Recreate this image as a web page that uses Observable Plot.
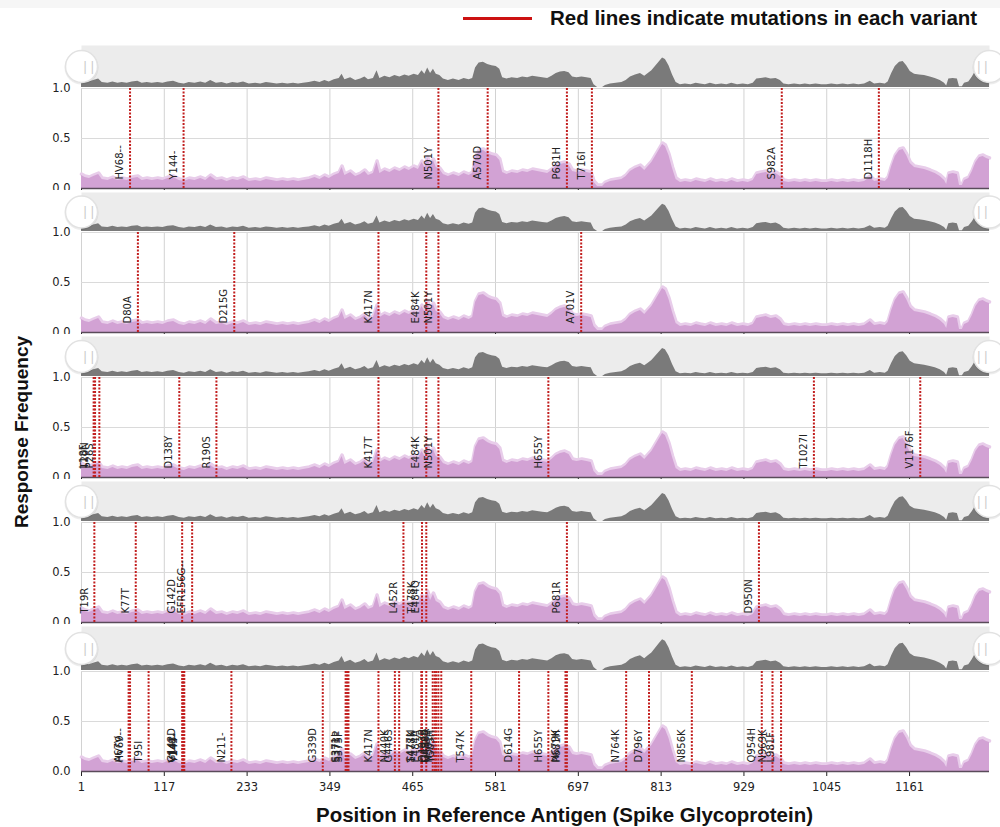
<!DOCTYPE html>
<html><head><meta charset="utf-8">
<script src="https://cdn.jsdelivr.net/npm/d3@7"></script>
<script src="https://cdn.jsdelivr.net/npm/@observablehq/plot@0.6"></script>
<style>
body{margin:0;background:#fff;}
#root{position:relative;width:1000px;height:827px;overflow:hidden;font-family:"Liberation Sans",Arial,sans-serif;}
</style></head><body><div id="root"></div>
<script>
// Response-frequency profile along the spike glycoprotein (position, value)
const profilePos = [1,6,12,18,25,30,38,45,52,58,65,72,80,86,93,100,108,115,122,130,138,145,152,160,168,175,182,190,198,205,213,220,228,236,245,252,260,268,275,283,290,298,305,312,320,328,335,342,348,355,362,366,370,378,385,392,398,403,410,415,419,426,433,440,447,454,460,467,473,478,482,486,490,494,498,503,508,515,522,530,537,544,549,553,558,564,570,576,582,587,591,597,604,612,619,626,633,640,647,654,660,666,672,678,684,689,695,702,709,715,719,724,731,735,742,750,758,764,770,777,784,790,795,800,805,810,815,819,824,829,834,840,847,855,862,868,875,882,890,898,905,912,920,928,935,942,947,953,960,967,974,980,985,992,1000,1008,1015,1022,1030,1038,1045,1052,1060,1068,1075,1083,1090,1098,1106,1112,1120,1127,1131,1136,1141,1147,1152,1157,1162,1168,1175,1182,1190,1197,1204,1210,1213,1216,1222,1228,1231,1235,1238,1244,1249,1254,1259,1264,1269,1273];
const profileVal = [0.13,0.11,0.10,0.12,0.14,0.09,0.08,0.10,0.08,0.09,0.08,0.10,0.11,0.08,0.09,0.08,0.09,0.08,0.10,0.11,0.08,0.07,0.09,0.08,0.10,0.08,0.12,0.08,0.09,0.07,0.09,0.08,0.10,0.07,0.08,0.07,0.09,0.08,0.07,0.08,0.07,0.08,0.07,0.08,0.09,0.11,0.09,0.12,0.10,0.13,0.15,0.21,0.13,0.16,0.12,0.14,0.17,0.13,0.15,0.26,0.15,0.18,0.16,0.19,0.17,0.20,0.18,0.21,0.19,0.26,0.21,0.30,0.22,0.28,0.21,0.19,0.14,0.12,0.14,0.12,0.15,0.13,0.15,0.30,0.37,0.38,0.35,0.33,0.32,0.28,0.16,0.14,0.16,0.15,0.17,0.16,0.18,0.17,0.16,0.15,0.18,0.22,0.24,0.25,0.23,0.17,0.16,0.17,0.16,0.15,0.06,0.02,0.02,0.05,0.07,0.08,0.09,0.12,0.17,0.20,0.22,0.18,0.22,0.26,0.32,0.38,0.44,0.42,0.33,0.20,0.09,0.06,0.07,0.06,0.08,0.07,0.06,0.08,0.06,0.07,0.06,0.08,0.06,0.07,0.06,0.08,0.14,0.15,0.16,0.14,0.15,0.12,0.07,0.06,0.07,0.06,0.07,0.06,0.07,0.06,0.06,0.07,0.06,0.07,0.06,0.07,0.06,0.07,0.11,0.07,0.08,0.07,0.10,0.22,0.32,0.38,0.39,0.33,0.25,0.21,0.20,0.19,0.17,0.15,0.12,0.08,0.04,0.14,0.15,0.14,0.03,0.03,0.08,0.10,0.17,0.26,0.31,0.32,0.30,0.29];

const xTicks = [1,117,233,349,465,581,697,813,929,1045,1161];
const yTicks = [0,0.5,1];

// Mutations per variant (label, residue position)
const alphaLabels = ["HV68--","Y144-","N501Y","A570D","P681H","T716I","S982A","D1118H"];
const alphaPos    = [69,144,501,570,681,716,982,1118];
const betaLabels  = ["D80A","D215G","K417N","E484K","N501Y","A701V"];
const betaPos     = [80,215,417,484,501,701];
const gammaLabels = ["L18F","T20N","P26S","D138Y","R190S","K417T","E484K","N501Y","H655Y","T1027I","V1176F"];
const gammaPos    = [18,20,26,138,190,417,484,501,655,1027,1176];
const deltaLabels = ["T19R","K77T","G142D","EFR156G--","L452R","T478K","E484Q","P681R","D950N"];
const deltaPos    = [19,77,142,156,452,478,484,681,950];
const omicronLabels = ["A67V","HV69--","T95I","G142D","V143-","Y144-","Y145-","N211-","G339D","S371L","S373P","S375F","K417N","N440K","G446S","S477N","T478K","E484A","Q493R","G496S","Q498R","N501Y","Y505H","T547K","D614G","H655Y","N679K","P681H","N764K","D796Y","N856K","Q954H","N969K","L981F"];
const omicronPos    = [67,69,95,142,143,144,145,211,339,371,373,375,417,440,446,477,478,484,493,496,498,501,505,547,614,655,679,681,764,796,856,954,969,981];

const variants = [
  [alphaLabels, alphaPos],
  [betaLabels, betaPos],
  [gammaLabels, gammaPos],
  [deltaLabels, deltaPos],
  [omicronLabels, omicronPos]
];

const root = document.getElementById("root");
const profile = profilePos.map((p, i) => ({pos: p, val: profileVal[i]}));
const xDomain = [1, 1273];
const W = 1000, ML = 81, MR = 11;
const mainTops = [88, 232, 377, 522, 671];

function place(el, top, left) {
  el.style.position = "absolute";
  el.style.left = (left || 0) + "px";
  el.style.top = top + "px";
  root.appendChild(el);
  return el;
}

// top faint band
const band = document.createElement("div");
band.style.cssText = "width:1000px;height:8px;background:#f6f6f6;";
place(band, 0);

// legend
const legLine = document.createElement("div");
legLine.style.cssText = "width:69px;height:3px;background:#cc1111;";
place(legLine, 17, 463);
const legText = document.createElement("div");
legText.textContent = "Red lines indicate mutations in each variant";
legText.style.cssText = "font:bold 20.5px 'Liberation Sans',Arial,sans-serif;color:#111;white-space:nowrap;line-height:24px;";
place(legText, 6, 550);

variants.forEach(([labels, positions], i) => {
  const mainTop = mainTops[i];
  const stripTop = i === 0 ? 45 : mainTops[i - 1] + 100 + 4;
  const stripH = mainTop - 1 - stripTop;
  const strip = Plot.plot({
    width: W, height: stripH + 2,
    marginTop: 2, marginBottom: 0, marginLeft: ML, marginRight: MR,
    x: {domain: xDomain, axis: null},
    y: {domain: [0.02, 0.62], axis: null},
    style: {background: "white"},
    marks: [
      Plot.frame({fill: "#ececec"}),
      Plot.areaY(profile, {x: "pos", y: "val", fill: "#7a7a7a", clip: true}),
      Plot.dot([0], {frameAnchor: "left", r: 17, fill: "#000", fillOpacity: 0.07, dy: 1}),
      Plot.dot([0], {frameAnchor: "left", r: 16, fill: "white", stroke: "#e2e2e2"}),
      Plot.text(["||"], {frameAnchor: "left", fill: "#c8c8c8", fontSize: 13}),
      Plot.dot([0], {frameAnchor: "right", r: 17, fill: "#000", fillOpacity: 0.07, dy: 1}),
      Plot.dot([0], {frameAnchor: "right", r: 16, fill: "white", stroke: "#e2e2e2"}),
      Plot.text(["||"], {frameAnchor: "right", fill: "#c8c8c8", fontSize: 13})
    ]
  });
  place(strip, stripTop - 2);

  const muts = labels.map((l, j) => ({label: l, pos: positions[j]}));
  const last = i === variants.length - 1;
  const mb = last ? 32 : 5;
  const main = Plot.plot({
    width: W, height: 8 + 100 + mb,
    marginTop: 8, marginBottom: mb, marginLeft: ML, marginRight: MR,
    style: {background: "transparent", fontFamily: "'DejaVu Sans', sans-serif", fontSize: "11.5px", color: "#222"},
    x: {domain: xDomain, ticks: xTicks, tickSize: 5, tickPadding: 6, label: null,
        tickFormat: last ? (d => String(d)) : (() => "")},
    y: {domain: [0, 1], ticks: yTicks, tickSize: 0, tickPadding: 11, label: null,
        tickFormat: d => d.toFixed(1)},
    marks: [
      Plot.ruleX(xTicks, {stroke: "#d2d2d2"}),
      Plot.ruleY([0.5, 1], {stroke: "#dadada"}),
      Plot.lineY(profile, {x: "pos", y: "val", stroke: "#e8cdea", strokeWidth: 3.5, dy: -1.5}),
      Plot.areaY(profile, {x: "pos", y: "val", fill: "#d2a2d4"}),
      Plot.ruleY([0], {stroke: "#5a4b5a", strokeWidth: 1.5}),
      Plot.ruleX(muts, {x: "pos", y1: 0, y2: 1, stroke: "#c21f1f", strokeWidth: 2, strokeDasharray: "2,1.5"}),
      Plot.text(muts, {x: "pos", y: 0, text: "label", rotate: -90, textAnchor: "start",
        dx: -10, dy: -9, fontSize: 10, fill: "#222"})
    ]
  });
  place(main, mainTop - 8);
});

// axis titles
const xTitle = document.createElement("div");
xTitle.textContent = "Position in Reference Antigen (Spike Glycoprotein)";
xTitle.style.cssText = "font:bold 20.5px 'Liberation Sans',Arial,sans-serif;color:#111;white-space:nowrap;line-height:24px;";
place(xTitle, 803, 316);

const yTitle = document.createElement("div");
yTitle.textContent = "Response Frequency";
yTitle.style.cssText = "font:bold 19px 'Liberation Sans',Arial,sans-serif;color:#111;white-space:nowrap;line-height:22px;transform:translate(-50%,-50%) rotate(-90deg);";
place(yTitle, 432, 22);
</script>
</body></html>
